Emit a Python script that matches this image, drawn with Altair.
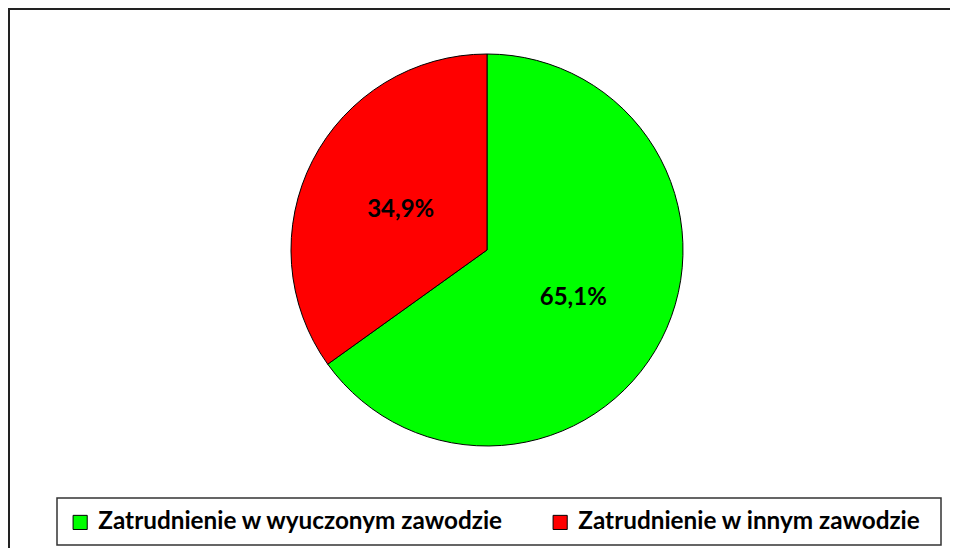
import altair as alt
import pandas as pd

categories = ["Zatrudnienie w wyuczonym zawodzie", "Zatrudnienie w innym zawodzie"]
values = [65.1, 34.9]
labels = ["65,1%", "34,9%"]
colors = ["#00FF00", "#FF0000"]

df = pd.DataFrame({"cat": categories, "val": values, "lab": labels, "idx": [0, 1]})

W, H = 942, 540
CX, CY = 479, 242
FONT = "Lato"

theta = alt.Theta("val:Q", stack=True)
color = alt.Color(
    "cat:N",
    sort=categories,
    scale=alt.Scale(domain=categories, range=colors),
    legend=alt.Legend(
        title=None,
        orient="none",
        legendX=60,
        legendY=502,
        direction="horizontal",
        symbolType="square",
        symbolSize=200,
        symbolStrokeColor="black",
        symbolStrokeWidth=1,
        symbolOpacity=1,
        labelFont=FONT,
        labelFontSize=24.3,
        labelFontWeight="bold",
        labelColor="black",
        labelLimit=1000,
        labelOffset=6,
        columnPadding=44,
        padding=0,
    ),
)

base = alt.Chart(df).encode(theta=theta, order=alt.Order("idx:Q"))

pie = base.mark_arc(radius=196, stroke="black", strokeWidth=1).encode(
    color=color, x=alt.value(CX), y=alt.value(CY)
)

text = base.mark_text(
    radius=97, dy=4, font=FONT, fontSize=24, fontWeight="bold", color="black"
).encode(text="lab:N", x=alt.value(CX), y=alt.value(CY))

frame = alt.Chart(pd.DataFrame({"k": [0]}))
outer_frame = frame.mark_rect(fill="white", stroke="#222222", strokeWidth=2).encode(
    x=alt.value(1), x2=alt.value(W + 60), y=alt.value(1), y2=alt.value(H + 60)
)
legend_box = frame.mark_rect(fill="white", stroke="#333333", strokeWidth=1.5).encode(
    x=alt.value(49), x2=alt.value(933), y=alt.value(490), y2=alt.value(537)
)

chart = (
    alt.layer(outer_frame, legend_box, pie, text)
    .properties(width=W, height=H, autosize=alt.AutoSizeParams(type="none"), padding=0)
    .configure_view(stroke=None, strokeWidth=0)
)

chart.save("out.html", embed_options={"renderer": "svg", "actions": False})
